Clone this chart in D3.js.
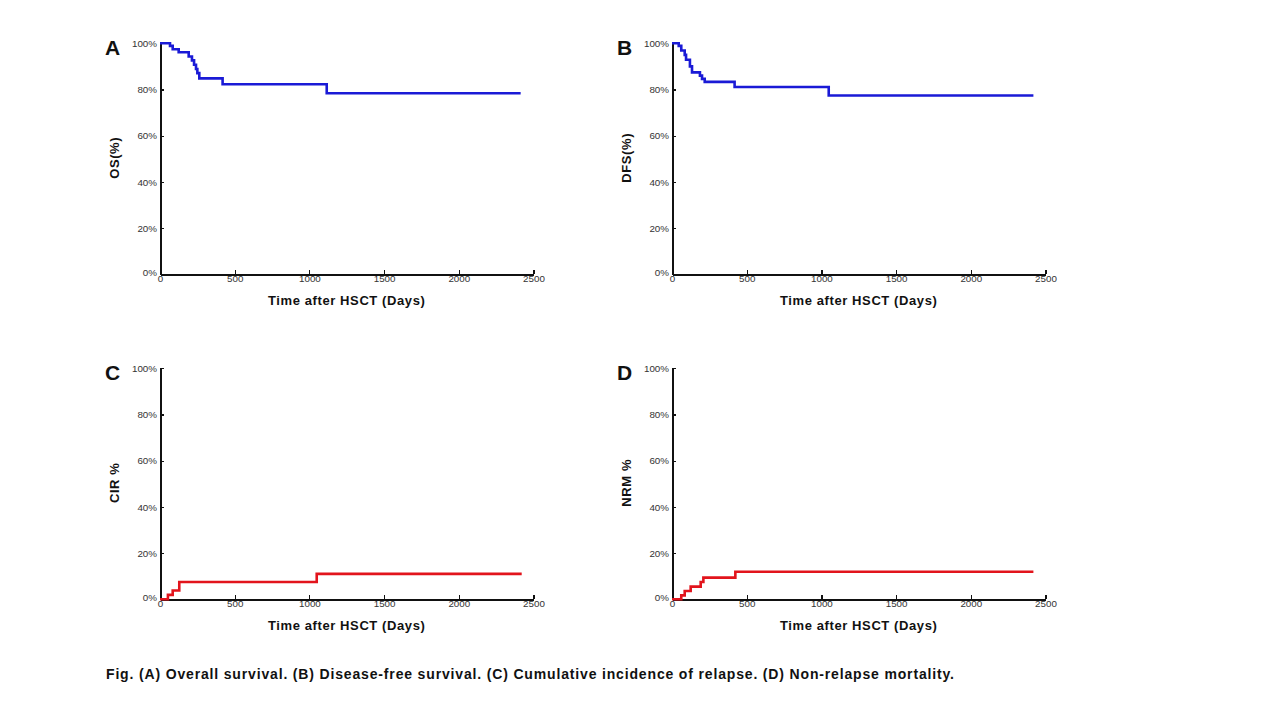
<!DOCTYPE html>
<html lang="en">
<head>
<meta charset="UTF-8">
<title>Survival curves</title>
<style type="text/css">
    body {
        margin: 0;
        background-color: #fff;
        font-family: 'Liberation Sans', Arial, sans-serif;
    }
    .axis path, .axis line {
        fill: none;
        stroke: #111;
        stroke-width: 2px;
        shape-rendering: crispEdges;
    }
    .axis .tick line { stroke-width: 1.2px; }
    .axis text {
        font-family: 'Liberation Sans', Arial, sans-serif;
        font-size: 9.8px;
        fill: #333;
    }
    .title {
        font-weight: bold;
        font-size: 13px;
        letter-spacing: 0.6px;
        fill: #111;
    }
</style>
</head>
<body>
<div id="chart"></div>
<script src="https://cdn.jsdelivr.net/npm/d3@7"></script>
<script type="text/javascript">
    // tick values
    var xTicks = [0, 500, 1000, 1500, 2000, 2500];
    var yTicks = [0, 20, 40, 60, 80, 100];

    // (A) overall survival
    var osDays = [0, 67, 85, 125, 192, 214, 228, 241, 250, 263, 419, 1116, 2414];
    var osPct  = [100, 98.9, 97.4, 96.1, 94.3, 92.6, 90.7, 88.9, 87.1, 84.8, 82.3, 78.4, 78.4];

    // (B) disease-free survival
    var dfsDays = [0, 45, 62, 85, 94, 120, 134, 187, 201, 219, 419, 1049, 2419];
    var dfsPct  = [100, 98.9, 96.9, 95.0, 92.9, 90.0, 87.4, 86.0, 84.6, 83.3, 81.1, 77.4, 77.4];

    // (C) cumulative incidence of relapse
    var cirDays = [0, 53, 85, 129, 1049, 2421];
    var cirPct  = [0, 1.9, 3.8, 7.5, 11.0, 11.0];

    // (D) non-relapse mortality
    var nrmDays = [0, 62, 85, 125, 192, 210, 424, 2419];
    var nrmPct  = [0, 1.7, 3.6, 5.5, 7.5, 9.4, 11.9, 11.9];

    var panels = [
        {letter: "A", ytitle: "OS(%)",  days: osDays,  pct: osPct,  color: "#1a1ad6", x0: 160, y0: 274.3},
        {letter: "B", ytitle: "DFS(%)", days: dfsDays, pct: dfsPct, color: "#1a1ad6", x0: 672, y0: 274.3},
        {letter: "C", ytitle: "CIR %",  days: cirDays, pct: cirPct, color: "#e2141c", x0: 160, y0: 599.3},
        {letter: "D", ytitle: "NRM %",  days: nrmDays, pct: nrmPct, color: "#e2141c", x0: 672, y0: 599.3}
    ];

    var W = 373.5, H = 231;

    var svg = d3.select("#chart").append("svg")
        .attr("width", 1267)
        .attr("height", 713);

    panels.forEach(function (p) {
        var g = svg.append("g")
            .attr("transform", "translate(" + p.x0 + "," + (p.y0 - H) + ")");

        var x = d3.scaleLinear().domain([0, 2500]).range([0, W]);
        var y = d3.scaleLinear().domain([0, 100]).range([H, 0]);

        var xAxis = d3.axisBottom(x).tickValues(xTicks)
            .tickSizeInner(-4).tickSizeOuter(0).tickPadding(3)
            .tickFormat(d3.format("d"));
        var yAxis = d3.axisLeft(y).tickValues(yTicks)
            .tickSizeInner(-4).tickSizeOuter(0).tickPadding(3)
            .tickFormat(function (d) { return d + "%"; });

        var data = p.days.map(function (d, i) { return {t: d, v: p.pct[i]}; });

        var line = d3.line()
            .curve(d3.curveStepAfter)
            .x(function (d) { return x(d.t); })
            .y(function (d) { return y(d.v); });

        g.append("g").attr("class", "axis")
            .attr("transform", "translate(0," + H + ")")
            .call(xAxis)
            .selectAll("text").attr("dy", "0.5em");

        var ya = g.append("g").attr("class", "axis").call(yAxis);
        ya.selectAll(".tick text").filter(function (d) { return d === 0; })
            .attr("dy", "0.1em");

        g.append("path")
            .datum(data)
            .attr("fill", "none")
            .attr("stroke", p.color)
            .attr("stroke-width", 2.6)
            .attr("d", line);

        g.append("text")
            .attr("class", "title")
            .attr("x", W / 2)
            .attr("y", H + 31)
            .attr("text-anchor", "middle")
            .text("Time after HSCT (Days)");

        g.append("text")
            .attr("class", "title")
            .attr("transform", "translate(-41," + (H / 2 - 1) + ") rotate(-90)")
            .attr("text-anchor", "middle")
            .text(p.ytitle);

        g.append("text")
            .attr("x", -55)
            .attr("y", 12)
            .attr("font-weight", "bold")
            .attr("font-size", "21px")
            .attr("fill", "#111")
            .text(p.letter);
    });

    svg.append("text")
        .attr("x", 106)
        .attr("y", 679)
        .attr("font-weight", "bold")
        .attr("font-size", "14px")
        .attr("letter-spacing", "0.84px")
        .attr("fill", "#111")
        .text("Fig. (A) Overall survival. (B) Disease-free survival. (C) Cumulative incidence of relapse. (D) Non-relapse mortality.");
</script>
</body>
</html>
